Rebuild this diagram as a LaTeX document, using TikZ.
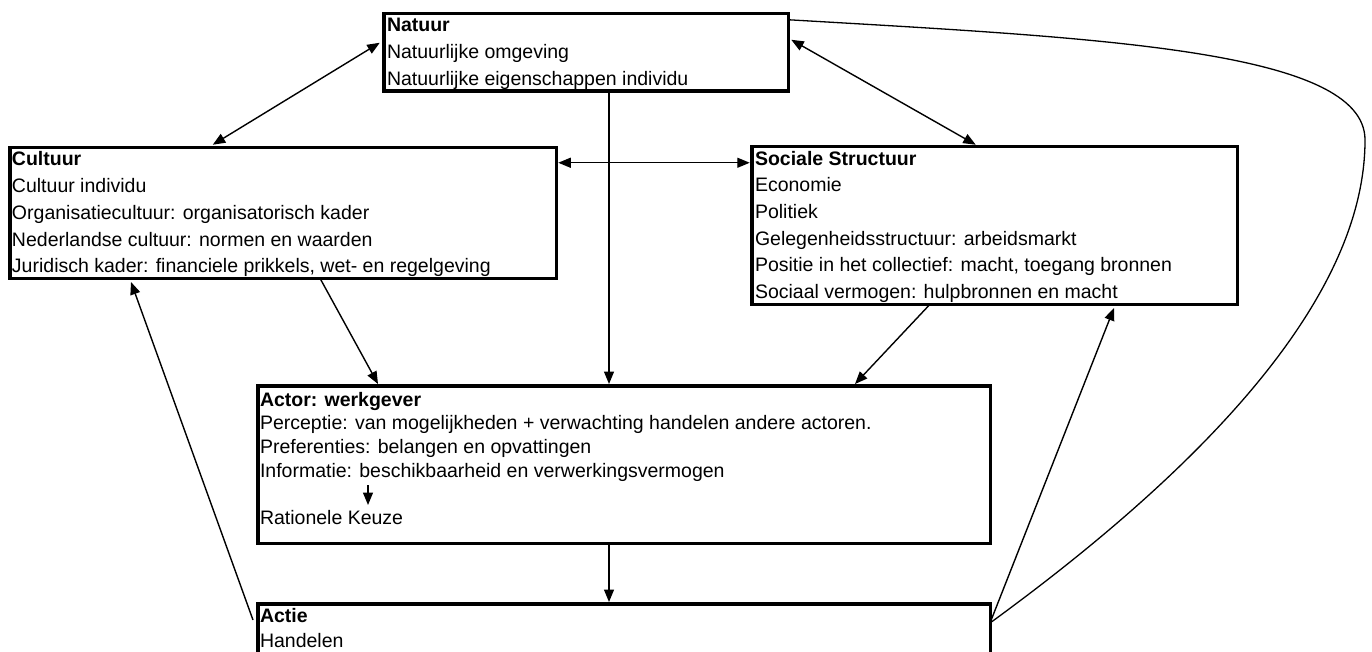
\documentclass[tikz,border=0pt]{standalone}
\usepackage{fontspec}
\setmainfont{Liberation Sans}
\usetikzlibrary{arrows.meta,calc}
\tikzset{
  box/.style={draw=black, line width=3.5pt, inner sep=0pt, outer sep=0pt, anchor=north west, rectangle},
  txt/.style={anchor=north west, inner sep=0pt, outer sep=0pt, align=left, font=\fontsize{19.5}{26.7}\selectfont},
  conn/.style={line width=1.4pt, -{Triangle[length=12.5pt,width=10pt]}},
  dbl/.style={line width=1.4pt, {Triangle[length=12.5pt,width=10pt]}-{Triangle[length=12.5pt,width=10pt]}},
  plain/.style={line width=1.3pt}
}
\newcommand\fstrut{\rule{0pt}{15pt}}
\begin{document}
\begin{tikzpicture}[x=1pt,y=-1pt]
\useasboundingbox (0,0) rectangle (1372,652);
\clip (0,0) rectangle (1372,652);
% boxes
\node[box, minimum width=404.5pt, minimum height=77.5pt] (nat) at (383.75,13.75) {};
\node[box, minimum width=546.5pt, minimum height=130.5pt] (cul) at (9.75,147.75) {};
\node[box, minimum width=485.5pt, minimum height=157.5pt] (soc) at (751.75,146.75) {};
\node[box, minimum width=732.5pt, minimum height=157.5pt] (act) at (257.75,385.75) {};
\node[box, minimum width=732.5pt, minimum height=70pt] (actie) at (257.75,603.75) {};
% texts
\node[txt] (natT) at ([xshift=3.25pt,yshift=-3.25pt]nat.north west)
  {\fstrut\textbf{Natuur}\\ Natuurlijke omgeving\\ Natuurlijke eigenschappen individu};
\node[txt] (culT) at ([xshift=2.25pt,yshift=-3.25pt]cul.north west)
  {\fstrut\textbf{Cultuur}\\ Cultuur individu\\ Organisatiecultuur: organisatorisch kader\\ Nederlandse cultuur: normen en waarden\\ Juridisch kader: financiele prikkels, wet- en regelgeving};
\node[txt] (socT) at ([xshift=3.25pt,yshift=-3.25pt]soc.north west)
  {\fstrut\textbf{Sociale Structuur}\\ Economie\\ Politiek\\ Gelegenheidsstructuur: arbeidsmarkt\\ Positie in het collectief: macht, toegang bronnen\\ Sociaal vermogen: hulpbronnen en macht};
\node[txt, font=\fontsize{19.5}{23.7}\selectfont] (actT) at ([xshift=2.25pt,yshift=-5.25pt]act.north west)
  {\fstrut\textbf{Actor: werkgever}\\ Perceptie: van mogelijkheden + verwachting handelen andere actoren.\\ Preferenties: belangen en opvattingen\\ Informatie: beschikbaarheid en verwerkingsvermogen\\ \mbox{}\\ Rationele Keuze};
\node[txt, font=\fontsize{19.5}{25}\selectfont] (actieT) at ([xshift=2.25pt,yshift=-3.25pt]actie.north west)
  {\fstrut\textbf{Actie}\\ Handelen};
% connectors
\draw[dbl] ([xshift=-4pt,yshift=-29pt]nat.north west) -- ([xshift=203pt,yshift=3pt]cul.north west);
\draw[dbl] ([xshift=3pt,yshift=-26pt]nat.north east) -- ([xshift=224pt,yshift=2pt]soc.north west);
\draw[dbl] ([xshift=2pt,yshift=-15pt]cul.north east) -- ([xshift=-2pt,yshift=-16pt]soc.north west);
\draw[conn] ([xshift=225.25pt]nat.south west) -- ([xshift=351.25pt,yshift=1.75pt]act.north west);
\draw[conn] ([xshift=310.25pt]cul.south west) -- ([xshift=120.25pt,yshift=1.75pt]act.north west);
\draw[conn] ([xshift=178.25pt]soc.south west) -- ([xshift=597.25pt,yshift=1.75pt]act.north west);
\draw[conn] ([xshift=351.25pt]act.south west) -- ([xshift=351.25pt,yshift=1.75pt]actie.north west);
\draw[conn] ([xshift=-4.75pt,yshift=-16.25pt]actie.north west) -- ([xshift=121.25pt,yshift=-3.75pt]cul.south west);
\draw[conn] ([xshift=-0.25pt,yshift=-19.25pt]actie.north east) -- ([xshift=362.25pt,yshift=-3.75pt]soc.south west);
\draw[plain] ([xshift=-0.25pt,yshift=-19.25pt]actie.north east)
  .. controls (1200,470) and (1365,300) .. (1365,140)
  .. controls (1365,50) and (1100,38) .. ([yshift=-6pt]nat.north east);
% inner arrow
\draw[conn] ([xshift=110.25pt,yshift=-99.25pt]act.north west) -- ([xshift=110.25pt,yshift=-119.25pt]act.north west);
\end{tikzpicture}
\end{document}
